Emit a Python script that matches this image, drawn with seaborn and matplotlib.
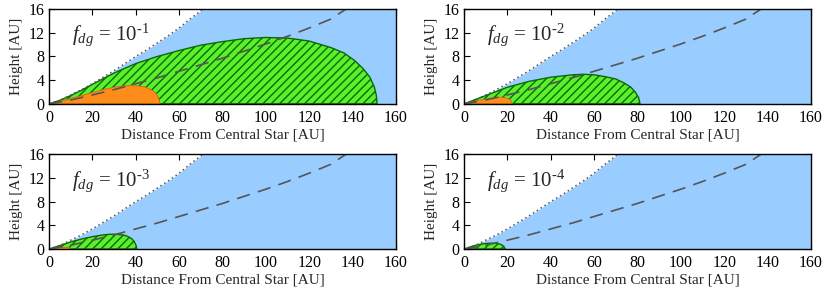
import numpy as np
import pandas as pd
import seaborn as sns
import matplotlib.pyplot as plt

# surface of the disk (dotted) and scale height (dashed), same in every panel
surface_x = [0, 5, 10, 15, 20, 25, 30, 35, 40, 45, 50, 55, 60, 65, 71, 80, 100, 130, 160]
surface_y = [0, 0.6, 1.5, 2.4, 3.4, 4.5, 5.6, 6.8, 8.0, 9.1, 10.3, 11.5, 12.8, 14.3, 16.0, 18.5, 24.0, 32.5, 41.5]
scale_x = [0, 10, 20, 30, 40, 50, 60, 70, 80, 90, 100, 110, 120, 130, 137, 150]
scale_y = [0, 0.65, 1.5, 2.4, 3.4, 4.4, 5.5, 6.6, 7.7, 8.9, 10.1, 11.4, 12.8, 14.3, 16.0, 17.9]

labels = [r'$f_{dg}$ = 10$^{\text{-1}}$', r'$f_{dg}$ = 10$^{\text{-2}}$',
          r'$f_{dg}$ = 10$^{\text{-3}}$', r'$f_{dg}$ = 10$^{\text{-4}}$']

# hatched (green) region boundary per panel
green_x = [
    [0, 5, 10, 15, 20, 30, 40, 50, 60, 70, 80, 90, 100, 110, 120, 130, 136, 141, 145, 148, 150, 151, 151.3],
    [0, 5, 10, 15, 20, 30, 40, 50, 55, 60, 65, 70, 74, 77, 79, 80.5, 81.2],
    [0, 5, 10, 15, 20, 25, 28, 31, 34, 36, 38, 39.3, 40.2, 40.5],
    [0, 2, 4, 6, 8, 10, 13, 15, 17, 18.3, 19],
]
green_y = [
    [0, 0.6, 1.4, 2.3, 3.3, 5.2, 6.8, 8.0, 9.0, 9.9, 10.5, 11.0, 11.2, 11.1, 10.6, 9.5, 8.6, 7.3, 5.9, 4.5, 2.9, 1.4, 0],
    [0, 0.7, 1.4, 2.1, 2.8, 3.8, 4.5, 4.9, 5.0, 4.9, 4.6, 4.2, 3.5, 2.8, 2.0, 1.1, 0],
    [0, 0.6, 1.2, 1.7, 2.1, 2.4, 2.5, 2.5, 2.4, 2.2, 1.8, 1.3, 0.6, 0],
    [0, 0.25, 0.5, 0.7, 0.85, 0.95, 1.0, 0.95, 0.8, 0.5, 0],
]

# inner (orange) region boundary per panel
orange_x = [
    [0, 5, 10, 15, 20, 25, 30, 35, 38, 41, 44, 46, 48, 49.5, 50.6, 51.2],
    [0, 3, 6, 9, 12, 15, 17, 19, 20.5, 21.6, 22.3],
    [0, 2, 4, 6, 7, 8, 9, 9.7, 10.1],
    [],
]
orange_y = [
    [0, 0.4, 0.9, 1.4, 1.9, 2.4, 2.8, 3.05, 3.1, 3.05, 2.85, 2.6, 2.2, 1.7, 1.0, 0],
    [0, 0.25, 0.5, 0.75, 0.95, 1.1, 1.12, 1.05, 0.9, 0.6, 0],
    [0, 0.1, 0.2, 0.28, 0.3, 0.3, 0.25, 0.15, 0],
    [],
]

sns.set_theme(style='ticks')
plt.rcParams['font.family'] = ['Liberation Serif', 'DejaVu Serif']
plt.rcParams['mathtext.fontset'] = 'custom'
plt.rcParams['mathtext.rm'] = 'Liberation Serif'
plt.rcParams['mathtext.it'] = 'Liberation Serif:italic'
plt.rcParams['hatch.linewidth'] = 1.0

fig = plt.figure(figsize=(8.3, 2.91), dpi=100)
lefts = [0.059, 0.559, 0.059, 0.559]
bottoms = [0.643, 0.643, 0.144, 0.144]

blue = '#99ccff'
surf = pd.DataFrame({'x': surface_x, 'y': surface_y})
scale = pd.DataFrame({'x': scale_x, 'y': scale_y})

for i in range(4):
    ax = fig.add_axes([lefts[i], bottoms[i], 0.418, 0.326])
    ax.set_axisbelow(True)
    ax.fill_between(surface_x, 0, surface_y, color=blue, lw=0, zorder=1)
    ax.fill(green_x[i], green_y[i], facecolor='#5cf02a', edgecolor='#0a6a0a',
            hatch='////', lw=1.0, zorder=2)
    if len(orange_x[i]) > 0:
        ax.fill(orange_x[i], orange_y[i], facecolor='#ff8c1a', edgecolor='#cc6a10',
                lw=0.6, zorder=3)
    sns.lineplot(data=surf, x='x', y='y', ax=ax, color='#555555', lw=1.1,
                 linestyle=(0, (1, 2)), zorder=4)
    sns.lineplot(data=scale, x='x', y='y', ax=ax, color='#555555', lw=1.2,
                 linestyle=(0, (8, 5)), zorder=4)
    ax.set_xlim(0, 160)
    ax.set_ylim(0, 16)
    ax.set_xticks(range(0, 161, 20))
    ax.set_yticks(range(0, 17, 4))
    ax.tick_params(direction='in', length=4, width=0.8, top=True, right=True,
                   labelsize=11.5, colors='black')
    ax.tick_params(axis='x', pad=4.5)
    ax.tick_params(axis='y', pad=3)
    ax.set_xlabel('Distance From Central Star [AU]', fontsize=11, labelpad=1.5)
    ax.set_ylabel('Height [AU]', fontsize=11, labelpad=4)
    for s in ax.spines.values():
        s.set_linewidth(1.0)
        s.set_color('black')
        s.set_zorder(5)
    ax.text(10.5, 11.6, labels[i], fontsize=15, va='center', ha='left', zorder=6)

fig.savefig('out.png', dpi=100)
